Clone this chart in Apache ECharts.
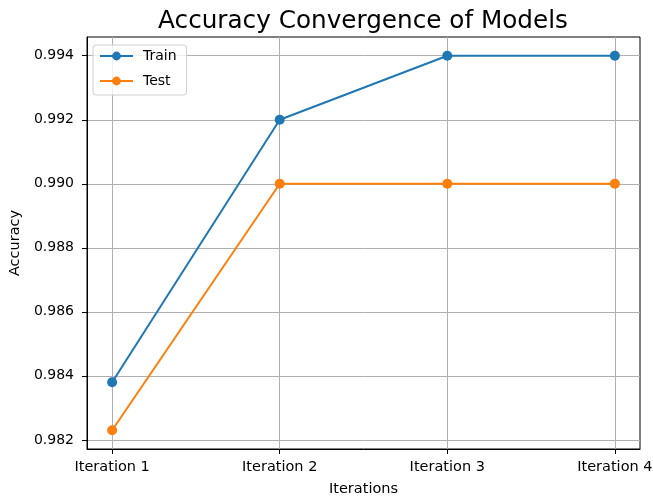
<!DOCTYPE html>
<html>
<head>
<meta charset="utf-8">
<script src="https://cdn.jsdelivr.net/npm/echarts@6/dist/echarts.min.js"></script>
<style>html,body{margin:0;padding:0;background:#fff}#c{width:653px;height:497px}</style>
</head>
<body>
<div id="c"></div>
<script>
const categories = ['Iteration 1', 'Iteration 2', 'Iteration 3', 'Iteration 4'];
const trainValues = [0.9838, 0.992, 0.994, 0.994];
const testValues = [0.9823, 0.990, 0.990, 0.990];
const yTicks = [0.982, 0.984, 0.986, 0.988, 0.990, 0.992, 0.994];
const xTicks = [0, 1, 2, 3];

const font = 'DejaVu Sans';
const chart = echarts.init(document.getElementById('c'), null, {renderer: 'canvas'});
const toPairs = arr => arr.map((v, i) => [i, v]);

chart.setOption({
  animation: false,
  backgroundColor: '#fff',
  title: {
    text: 'Accuracy Convergence of Models',
    left: 358, textAlign: 'center', top: 4,
    textStyle: {fontFamily: font, fontSize: 24.7, fontWeight: 'normal', color: '#000'}
  },
  legend: {
    left: 93, top: 45, orient: 'vertical',
    backgroundColor: 'rgba(255,255,255,0.8)',
    borderColor: '#d0d0d0', borderWidth: 1, borderRadius: 3,
    padding: [4, 10, 7, 6], itemGap: 11, itemWidth: 33, itemHeight: 11,
    textStyle: {fontFamily: font, fontSize: 14, color: '#000', padding: [0, 0, 0, 5]},
    data: ['Train', 'Test']
  },
  grid: {left: 87, right: 13, top: 37, bottom: 48, show: true, borderColor: '#000', borderWidth: 1,
    backgroundColor: 'transparent', containLabel: false, outerBoundsMode: 'none'},
  xAxis: {
    type: 'value', min: -0.15, max: 3.15,
    name: 'Iterations', nameLocation: 'middle', nameGap: 33,
    nameTextStyle: {fontFamily: font, fontSize: 14.5, color: '#000'},
    axisLine: {show: true, onZero: false, lineStyle: {color: '#000', width: 1}},
    axisTick: {show: true, length: 5, lineStyle: {color: '#000'}, customValues: xTicks},
    axisLabel: {margin: 11, fontFamily: font, fontSize: 14.5, color: '#000', customValues: xTicks,
      formatter: v => categories[Math.round(v)] || ''},
    splitLine: {show: true, lineStyle: {color: '#b0b0b0', width: 1}}
  },
  yAxis: {
    type: 'value', min: 0.981715, max: 0.994585,
    name: 'Accuracy', nameLocation: 'middle', nameGap: 64,
    nameTextStyle: {fontFamily: font, fontSize: 14.5, color: '#000'},
    axisLine: {show: true, onZero: false, lineStyle: {color: '#000', width: 1}},
    axisTick: {show: true, length: 5, lineStyle: {color: '#000'}, customValues: yTicks},
    axisLabel: {margin: 13, fontFamily: font, fontSize: 14, color: '#000', customValues: yTicks,
      formatter: v => v.toFixed(3)},
    splitLine: {show: true, lineStyle: {color: '#b0b0b0', width: 1}}
  },
  series: [
    {name: 'Train', type: 'line', data: toPairs(trainValues), symbol: 'circle', symbolSize: 10,
      lineStyle: {color: '#1f77b4', width: 2}, itemStyle: {color: '#1f77b4'}},
    {name: 'Test', type: 'line', data: toPairs(testValues), symbol: 'circle', symbolSize: 10,
      lineStyle: {color: '#ff7f0e', width: 2}, itemStyle: {color: '#ff7f0e'}}
  ]
});
</script>
</body>
</html>
